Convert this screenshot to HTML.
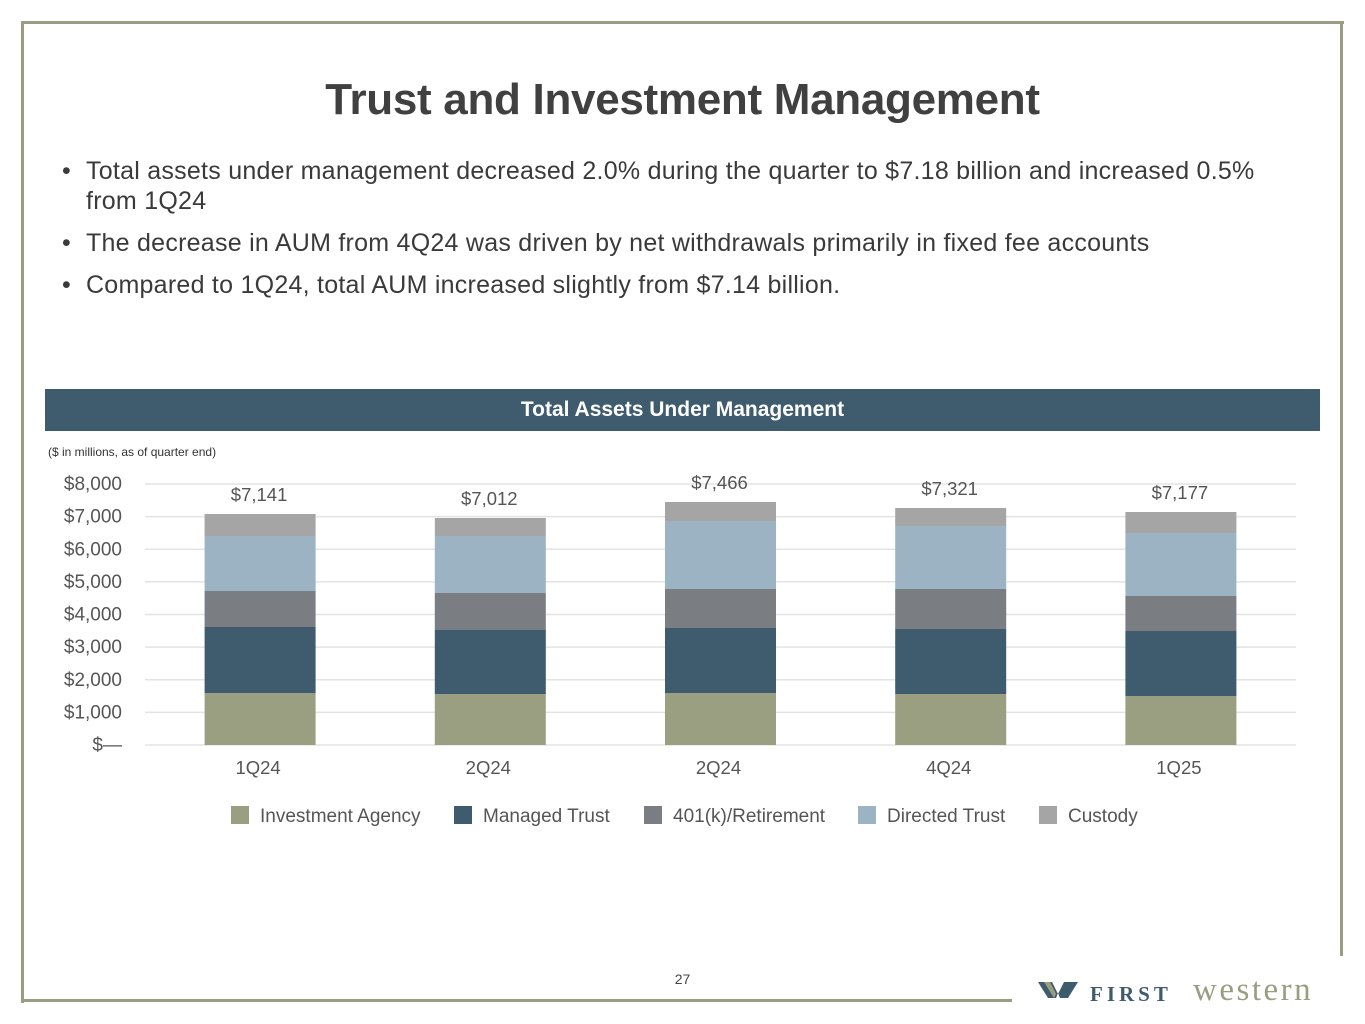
<!DOCTYPE html>
<html><head><meta charset="utf-8">
<style>
body{margin:0;width:1365px;height:1024px;background:#fff;font-family:"Liberation Sans",sans-serif;position:relative;overflow:hidden}
.abs{position:absolute}
.frame{background:#9b9d80}
h1{position:absolute;left:0;width:1365px;top:75px;margin:0;text-align:center;font-size:44px;font-weight:bold;color:#404040;letter-spacing:-0.3px}
ul{position:absolute;left:62px;top:156px;margin:0;padding:0;list-style:none;width:1240px;font-size:25px;letter-spacing:0.25px;color:#3a3a3a;line-height:30px}
li{position:relative;padding-left:24px;margin-bottom:12px}
li:before{content:"•";position:absolute;left:0;top:0}
</style></head><body>
<div class="abs frame" style="left:22px;top:21px;width:1322px;height:3px"></div>
<div class="abs frame" style="left:21px;top:21px;width:3px;height:982px"></div>
<div class="abs frame" style="left:1340px;top:21px;width:3px;height:935px"></div>
<div class="abs frame" style="left:21px;top:999px;width:991px;height:3px"></div>
<h1>Trust and Investment Management</h1>
<ul>
<li>Total assets under management decreased 2.0% during the quarter to $7.18 billion and increased 0.5% from 1Q24</li>
<li>The decrease in AUM from 4Q24 was driven by net withdrawals primarily in fixed fee accounts</li>
<li>Compared to 1Q24, total AUM increased slightly from $7.14 billion.</li>
</ul>
<div class="abs" style="left:45px;top:389px;width:1275px;height:42px;background:#3f5c6e;color:#fff;font-weight:bold;font-size:21px;text-align:center;line-height:42px">Total Assets Under Management</div>
<div class="abs" style="left:48px;top:445px;font-size:12px;color:#333">($ in millions, as of quarter end)</div>
<svg id="chart" class="abs" style="left:0;top:0" width="1365" height="1024"></svg>
<div class="abs" style="left:660px;top:971px;width:45px;text-align:center;font-size:14px;color:#444">27</div>
<div class="abs" style="left:1038px;top:972px;width:320px;height:40px;white-space:nowrap">
<svg width="46" height="30" style="position:absolute;left:0;top:8px"><path d="M0 2 L14 2 L20 14 L26 2 L40 2 L30 18 L22 18 L20 13 L18 18 L10 18 Z" fill="#3f5c6e"/><path d="M6 2 L12 2 L18 14 L16 18 Z" fill="#9b9d80"/></svg>
<span style="position:absolute;left:52px;top:10px;font-family:'Liberation Serif',serif;font-weight:bold;font-size:21px;letter-spacing:4px;color:#3f5c6e">FIRST</span><span style="position:absolute;left:155px;top:0px;font-family:'Liberation Serif',serif;font-size:33px;letter-spacing:2.5px;color:#9b9d80">western</span>
</div>
<script>
const categories=["1Q24","2Q24","2Q24","4Q24","1Q25"];
const totals=["$7,141","$7,012","$7,466","$7,321","$7,177"];
const investmentAgency=[1594,1563,1594,1563,1502];
const managedTrust=[2023,1962,1992,1993,1992];
const retirement=[1103,1134,1196,1226,1073];
const directedTrust=[1686,1747,2084,1931,1931];
const custody=[674,552,582,551,644];
const yTicks=[0,1000,2000,3000,4000,5000,6000,7000,8000];
const yTickLabels=["$—","$1,000","$2,000","$3,000","$4,000","$5,000","$6,000","$7,000","$8,000"];
const seriesNames=["Investment Agency","Managed Trust","401(k)/Retirement","Directed Trust","Custody"];
const seriesColors=["#9b9f82","#3f5c6e","#7a7d82","#9cb3c3","#a5a5a5"];
const series=[investmentAgency,managedTrust,retirement,directedTrust,custody];
const svg=document.getElementById('chart');const NS="http://www.w3.org/2000/svg";
const x0=145,x1=1296,y0=745,y8=484,yMax=8000;
const y=v=>y0-(v/yMax)*(y0-y8);
const band=(x1-x0)/categories.length;
const xc=i=>x0+band*(i+0.5);
function mk(t,a){const e=document.createElementNS(NS,t);for(const k in a)e.setAttribute(k,a[k]);svg.appendChild(e);return e;}
yTicks.forEach((v,i)=>{
 const g=mk('line',{x1:x0,x2:x1,y1:y(v),y2:y(v),stroke:'#e3e3e3','stroke-width':1.5});
 
 
 const t=mk('text',{x:122,y:y(v)+6,'text-anchor':'end','font-size':19,fill:'#555','font-family':'Liberation Sans, sans-serif'});
 t.textContent=yTickLabels[i];
 
 
});
const bw=111;
categories.forEach((c,i)=>{
 let cum=0;
 series.forEach((s,k)=>{
  const r=mk('rect',{x:xc(i)-bw/2,y:y(cum+s[i]),width:bw,height:y(cum)-y(cum+s[i]),fill:seriesColors[k]});
  
  
  cum+=s[i];
 });
 const t=mk('text',{x:xc(i)-1,y:y(cum)-13,'text-anchor':'middle','font-size':18.5,fill:'#555','font-family':'Liberation Sans, sans-serif'});
 t.textContent=totals[i];
 
 
 const xl=mk('text',{x:xc(i)-2,y:774,'text-anchor':'middle','font-size':18.5,fill:'#555','font-family':'Liberation Sans, sans-serif'});
 xl.textContent=c;
 
 
});
const legX=[231,454,644,858,1039];
seriesNames.forEach((n,k)=>{
 const r=mk('rect',{x:legX[k],y:806,width:18,height:18,fill:seriesColors[k]});
 
 
 const t=mk('text',{x:legX[k]+29,y:822,'font-size':19,fill:'#555','font-family':'Liberation Sans, sans-serif'});
 t.textContent=n;
 
 
});
</script>
</body></html>
